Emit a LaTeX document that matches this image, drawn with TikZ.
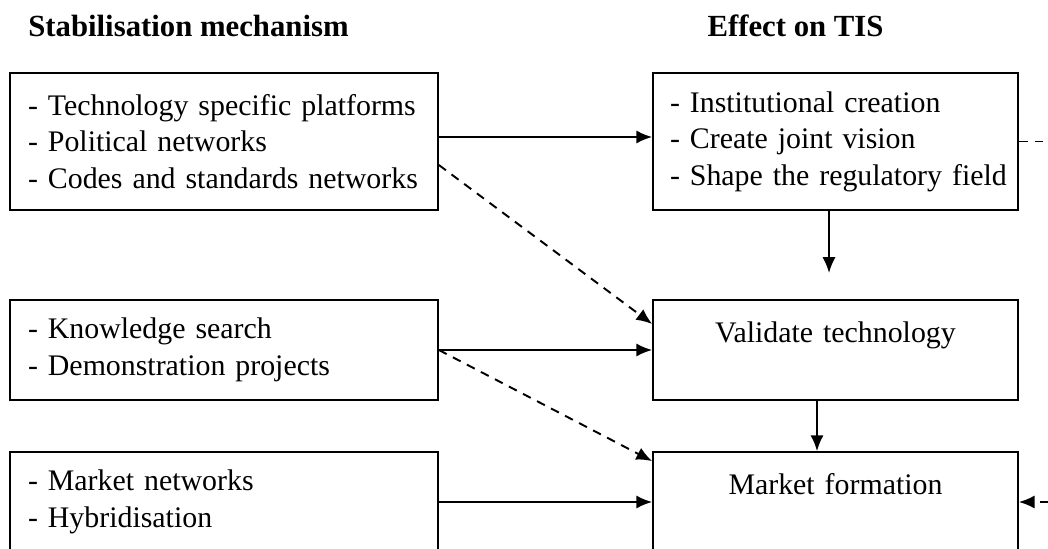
\documentclass[tikz,border=0pt]{standalone}
\usepackage{fontspec}
\setmainfont{Liberation Serif}
\usetikzlibrary{arrows.meta}
\tikzset{
    mech/.style={draw,line width=1pt,minimum width=8.56cm,text width=7.84cm,inner xsep=0.36cm,inner ysep=0pt,align=left},
    eff/.style={draw,line width=1pt,minimum width=7.3cm,text width=6.62cm,inner xsep=0.34cm,inner ysep=0pt,align=left},
    arr/.style={-{Latex[length=9pt,width=7.5pt]},line width=1.1pt},
    dsh/.style={-{Latex[length=9pt,width=7.5pt]},line width=1.1pt,dash pattern=on 5pt off 4pt}
}
\begin{document}
\begin{tikzpicture}[x=0.02cm,y=0.02cm,font=\fontsize{17pt}{20.8pt}\selectfont]
    \path[use as bounding box] (0,0) rectangle (1048,548);
    \clip (0,0) rectangle (1048,548);
    \node[anchor=base west,inner sep=0pt] (hmech) at (28,511.3) {\fontsize{17.5pt}{20.8pt}\selectfont\bfseries Stabilisation mechanism};
    \node[anchor=base,inner sep=0pt] (heff) at (795.5,511.3) {\fontsize{17.5pt}{20.8pt}\selectfont\bfseries Effect on TIS};
    \node[mech,minimum height=2.74cm] (mechA) at (224,406.5) {- Technology specific platforms\\- Political networks\\- Codes and standards networks};
    \node[eff,minimum height=2.74cm] (effA) at (835.5,406.5) {- Institutional creation\\- Create joint vision\\\mbox{- Shape the regulatory field}};
    \node[mech,minimum height=2cm] (mechB) at (224,198) {- Knowledge search\\- Demonstration projects};
    \node[eff,align=center,minimum height=2cm] (valid) at (835.5,198) {Validate technology\\~};
    \node[mech,minimum height=2cm] (mechC) at (224,46) {- Market networks\\- Hybridisation};
    \node[eff,align=center,minimum height=2cm] (market) at (835.5,46) {Market formation\\~};
    \coordinate (gap) at (829,275);
    \coordinate (loopR) at (1075,0);
    % solid links
    \draw[arr] ([yshift=0.09cm]mechA.east) -- ([yshift=0.09cm]effA.west);
    \draw[arr] (mechB.east) -- (valid.west);
    \draw[arr] (mechC.east) -- (market.west);
    \draw[arr] (effA.south -| gap) -- (gap);
    \draw[arr] ([xshift=-0.37cm]valid.south) -- ([xshift=-0.37cm]market.north);
    % dashed links
    \draw[dsh] ([yshift=-0.47cm]mechA.east) -- ([yshift=0.52cm]valid.west);
    \draw[dsh] (mechB.east) -- ([yshift=-0.2cm]market.north west);
    \draw[dsh] (effA.east) -- (effA.east -| loopR) -- (market.east -| loopR) -- (market.east);
\end{tikzpicture}
\end{document}
